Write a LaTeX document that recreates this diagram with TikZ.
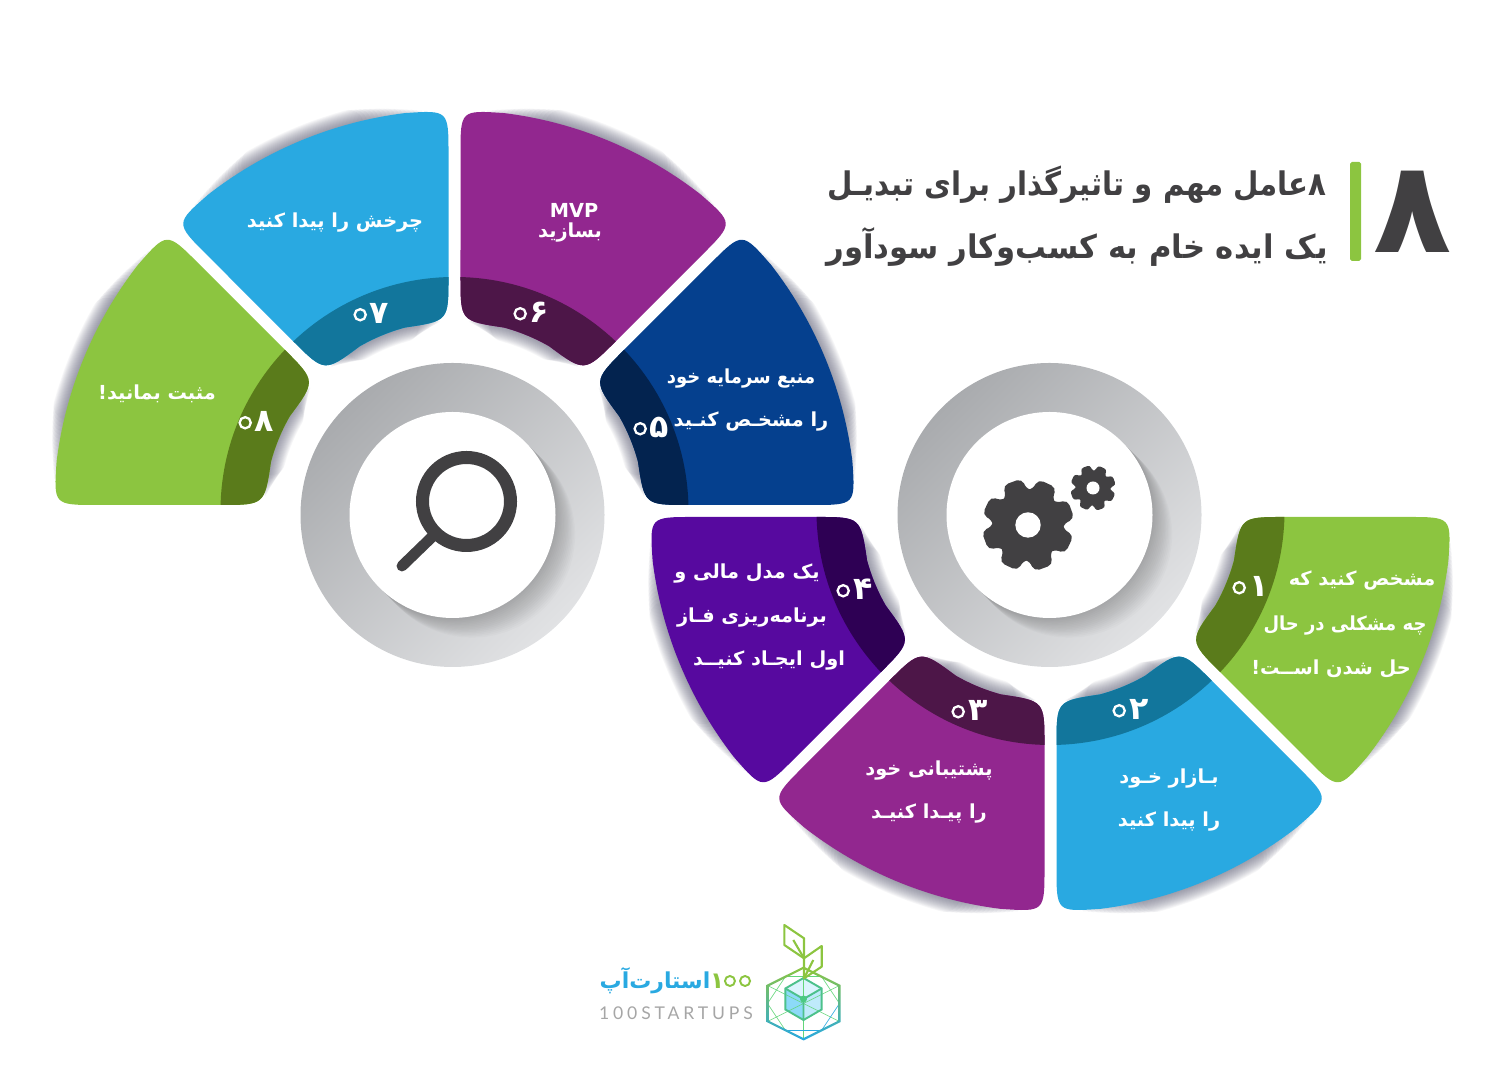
\documentclass[tikz,border=0pt]{standalone}
\usepackage{fontspec}
\usetikzlibrary{calc}
\setmainfont{DejaVu Sans}
\newfontfamily\farsifont[Script=Arabic]{DejaVu Sans}
\newfontfamily\logofont[LetterSpace=22]{Lato}
\TeXXeTstate=1

\definecolor{inkgray}{HTML}{414042}
\definecolor{shadowink}{HTML}{55566E}
\definecolor{ringdark}{HTML}{A9ABAE}
\definecolor{ringlight}{HTML}{E1E2E4}
\definecolor{leafgreen}{HTML}{8CC540}
\definecolor{leafdark}{HTML}{5A7B1B}
\definecolor{skyblue}{HTML}{29A9E1}
\definecolor{skydark}{HTML}{12769C}
\definecolor{plumpurple}{HTML}{92278F}
\definecolor{plumdark}{HTML}{4D1648}
\definecolor{navyblue}{HTML}{05408E}
\definecolor{navydark}{HTML}{03234F}
\definecolor{violetdeep}{HTML}{57099F}
\definecolor{violetdark}{HTML}{2E0054}

\tikzset{
    segtext/.style={text=white, font=\farsifont\bfseries\fontsize{11}{12}\selectfont, inner sep=0pt},
    segnum/.style={text=white, font=\farsifont\bfseries\fontsize{18}{18}\selectfont, inner sep=0pt},
    titletext/.style={text=inkgray, font=\farsifont\bfseries\fontsize{18.5}{20}\selectfont, inner sep=0pt},
    squeeze/.style={xscale=#1, transform shape},
    gridline/.style={line width=0.35pt}
}

\newcommand{\fa}[1]{\beginR #1\endR}

% Soft shadow along one arc
\newcommand{\arcshadow}[3]{%
    \begin{scope}[shift={(#1)}]
        \foreach \i in {1,...,16}{
            \pgfmathsetmacro{\f}{18.5-\i*0.7}
            \draw[shadowink, opacity=0.05, line width=\i pt, line cap=round]
                ({#2+\f}:#3) arc[start angle={#2+\f}, end angle={#2-\f}, radius=#3];
        }
    \end{scope}
}

% One rounded sector with its dark band
\newcommand{\drawsector}[4]{%
    \begin{scope}[shift={(#1)}]
        \pgfmathsetmacro{\aOut}{22.5-asin(6/\Rout)}
        \pgfmathsetmacro{\aIn}{22.5-asin(6/\Rin)}
        \pgfmathsetmacro{\aOutE}{22.5-asin(6/(\Rout-\Rc))}
        \pgfmathsetmacro{\aInE}{22.5-asin(6/(\Rin+\Rc))}
        \pgfmathsetmacro{\tOut}{\Rc/\Rout*57.3}
        \pgfmathsetmacro{\tIn}{\Rc/\Rin*57.3}
        \def\secpath{({#2+\aInE}:{\Rin+\Rc}) -- ({#2+\aOutE}:{\Rout-\Rc})
            .. controls ({#2+\aOut}:\Rout) .. ({#2+\aOut-\tOut}:\Rout)
            arc[start angle={#2+\aOut-\tOut}, end angle={#2-\aOut+\tOut}, radius=\Rout]
            .. controls ({#2-\aOut}:\Rout) .. ({#2-\aOutE}:{\Rout-\Rc})
            -- ({#2-\aInE}:{\Rin+\Rc})
            .. controls ({#2-\aIn}:\Rin) .. ({#2-\aIn+\tIn}:\Rin)
            arc[start angle={#2-\aIn+\tIn}, end angle={#2+\aIn-\tIn}, radius=\Rin]
            .. controls ({#2+\aIn}:\Rin) .. ({#2+\aInE}:{\Rin+\Rc}) -- cycle}
        \fill[#3] \secpath;
        \begin{scope}
            \clip \secpath;
            \fill[#4] (0,0) circle (\Rband);
        \end{scope}
    \end{scope}
}

% Grey ring with the crescent inside
\newcommand{\drawring}[1]{%
    \begin{scope}[shift={(#1)}]
        \shade[top color=ringdark, bottom color=ringlight, shading angle=45] (0,0) circle (152);
        \begin{scope}
            \clip (0,0) circle (152);
            \foreach \i in {1,...,14}
                \fill[black, opacity=0.017] ({\i*1.4},{-\i*1.4}) circle (103);
        \end{scope}
        \fill[white] (0,0) circle (103);
    \end{scope}
}

% Gear with eight teeth
\newcommand{\drawgear}[5]{%
    \begin{scope}[shift={(#1)}]
        \fill[inkgray, rounded corners=#5] (87.5:#3)
            \foreach \k in {0,...,7}{
                -- ({110+45*\k-19}:#3) -- ({110+45*\k-12}:#2)
                -- ({110+45*\k+12}:#2) -- ({110+45*\k+19}:#3)
            } -- cycle;
        \fill[white] (0,0) circle (#4);
    \end{scope}
}

% Open ring over the zero of a sector number
\newcommand{\zeroring}[2]{%
    \draw[white, line width=1.3pt, fill=#2] ([xshift=5.6pt, yshift=-1pt]#1.west) circle (5.6);
}

\begin{document}
\begin{tikzpicture}[x=0.02cm, y=0.02cm]
    % Parameters
    \def\Rout{401}   % outer radius of a sector
    \def\Rband{234}  % outer radius of the dark band
    \def\Rin{190}    % inner radius of a sector
    \def\Rc{44}      % length cut by a rounded corner

    \useasboundingbox (0,0) rectangle (1500,1084);

    \coordinate (lefthub) at (454.5,573);
    \coordinate (righthub) at (1050.5,573);

    % Shadows
    \foreach \m in {157.5,112.5,67.5,22.5}{
        \arcshadow{lefthub}{\m}{\Rout}
        \arcshadow{lefthub}{\m}{\Rin}
    }
    \foreach \m in {202.5,247.5,292.5,337.5}{
        \arcshadow{righthub}{\m}{\Rout}
        \arcshadow{righthub}{\m}{\Rin}
    }

    % Left half
    \drawsector{lefthub}{157.5}{leafgreen}{leafdark}
    \drawsector{lefthub}{112.5}{skyblue}{skydark}
    \drawsector{lefthub}{67.5}{plumpurple}{plumdark}
    \drawsector{lefthub}{22.5}{navyblue}{navydark}

    % Right half
    \drawsector{righthub}{202.5}{violetdeep}{violetdark}
    \drawsector{righthub}{247.5}{plumpurple}{plumdark}
    \drawsector{righthub}{292.5}{skyblue}{skydark}
    \drawsector{righthub}{337.5}{leafgreen}{leafdark}

    % Rings
    \drawring{452.5,569}
    \drawring{1049.5,569}

    % Magnifier
    \draw[inkgray, line width=7.4pt] (466.5,582.5) circle (44);
    \draw[inkgray, line width=6.2pt, line cap=round] (433,548) -- (402,518);

    % Gears
    \drawgear{1028,559}{46.8}{35}{12.7}{3pt}
    \drawgear{1093,596}{23}{17}{6.5}{1.5pt}

    % Sector texts
    \node (text08) [segtext] at (157,690) {\fa{مثبت بمانید!}};
    \node (text07) [segtext] at (335,861) {\fa{چرخش را پیدا کنید}};
    \node (text06a) [segtext] at (574,874) {MVP};
    \node (text06b) [segtext] at (570,851) {\fa{بسازید}};
    \node (text05a) [segtext, squeeze=0.93] at (741,705) {\fa{منبع سرمایه خود}};
    \node (text05b) [segtext] at (751,662) {\fa{را مشخـص کنـید}};
    \node (text04a) [segtext] at (747,510) {\fa{یک مدل مالی و}};
    \node (text04b) [segtext] at (752,466) {\fa{برنامه‌ریزی فـاز}};
    \node (text04c) [segtext] at (769,423) {\fa{اول ایجـاد کنیــد}};
    \node (text03a) [segtext] at (929,313) {\fa{پشتیبانی خود}};
    \node (text03b) [segtext] at (929,270) {\fa{را پیـدا کنیـد}};
    \node (text02a) [segtext] at (1169,305) {\fa{بـازار خـود}};
    \node (text02b) [segtext] at (1169,262) {\fa{را پیدا کنید}};
    \node (text01a) [segtext] at (1362,503) {\fa{مشخص کنید که}};
    \node (text01b) [segtext, squeeze=0.93] at (1345,458) {\fa{چه مشکلی در حال}};
    \node (text01c) [segtext] at (1331,415) {\fa{حل شدن اســت!}};

    % Sector numbers
    \node (num08) [segnum] at (255,663) {۰۸};
    \node (num07) [segnum] at (370,771) {۰۷};
    \node (num06) [segnum] at (530,772) {۰۶};
    \node (num05) [segnum] at (650,657) {۰۵};
    \node (num04) [segnum] at (853,495) {۰۴};
    \node (num03) [segnum] at (968,374) {۰۳};
    \node (num02) [segnum] at (1129,375) {۰۲};
    \node (num01) [segnum] at (1249,498) {۰۱};
    \zeroring{num08}{leafdark}
    \zeroring{num07}{skydark}
    \zeroring{num06}{plumdark}
    \zeroring{num05}{navydark}
    \zeroring{num04}{violetdark}
    \zeroring{num03}{plumdark}
    \zeroring{num02}{skydark}
    \zeroring{num01}{leafdark}

    % Title
    \node (bigeight) [text=inkgray, font=\farsifont\bfseries\fontsize{73}{73}\selectfont, inner sep=0pt] at (1413,872) {۸};
    \fill[leafgreen, rounded corners=1pt] (1350,823) rectangle (1361,922);
    \node (title1) [titletext, squeeze=0.9] at (1077,899) {\fa{۸عامل مهم و تاثیرگذار برای تبدیـل}};
    \node (title2) [titletext, squeeze=0.945] at (1077,837) {\fa{یک ایده خام به کسب‌وکار سودآور}};

    % Logo texts
    \node (logonum) [text=leafgreen, font=\farsifont\bfseries\fontsize{13}{13}\selectfont, inner sep=0pt] at (731,103) {۱۰۰};
    \node (logofa) [text=skyblue, font=\farsifont\bfseries\fontsize{12.5}{13}\selectfont, inner sep=0pt] at (655,103) {\fa{استارت‌آپ}};
    \node (logoen) [text=black!35, font=\logofont\fontsize{10}{10}\selectfont, inner sep=0pt] at (676,71) {100STARTUPS};
    \draw[leafgreen, line width=1.1pt, fill=white] ([xshift=-0.6pt]logonum.center) circle (5);
    \draw[leafgreen, line width=1.1pt, fill=white] ([xshift=8pt]logonum.center) circle (5);

    % Logo cube
    \begin{scope}[shift={(803.5,85)}]
        \fill[cyan!14] (90:21) -- (30:21) -- (0,0) -- (150:21) -- cycle;
        \fill[cyan!45] (150:21) -- (0,0) -- (270:21) -- (210:21) -- cycle;
        \fill[cyan!25] (30:21) -- (0,0) -- (270:21) -- (330:21) -- cycle;
    \end{scope}

    % Logo grid
    \begin{scope}[shift={(803.5,80.5)}, xscale=1.155]
        \foreach \a in {30,90,150}
            \draw[gridline, leafgreen!70!cyan] (\a:36) -- ({\a+180}:36);
        \foreach \a/\b in {90/150, 150/210, 30/90, 330/30}
            \draw[gridline, leafgreen!70!cyan] ($(\a:36)!0.5!(\b:36)$) -- ($({\a+60}:36)!0.5!({\b+60}:36)$);
        \foreach \a/\b in {210/270, 270/330}
            \draw[gridline, skyblue] ($(\a:36)!0.5!(\b:36)$) -- ($({\a+60}:36)!0.5!({\b+60}:36)$);
        \shade[top color=leafgreen, bottom color=skyblue, even odd rule]
            (90:37) -- (30:37) -- (330:37) -- (270:37) -- (210:37) -- (150:37) -- cycle
            (90:34.6) -- (30:34.6) -- (330:34.6) -- (270:34.6) -- (210:34.6) -- (150:34.6) -- cycle;
    \end{scope}

    % Logo cube lines
    \begin{scope}[shift={(803.5,85)}]
        \draw[line width=1.1pt, teal!70!green!70] (90:21) -- (30:21) -- (330:21) -- (270:21) -- (210:21) -- (150:21) -- cycle;
        \draw[line width=1.1pt, teal!70!green!70] (0,0) -- (150:21) (0,0) -- (30:21) (0,0) -- (270:21);
        \fill[teal!60!green!70] (0,0) circle (3.5);
    \end{scope}

    % Logo leaves
    \draw[leafgreen, line width=1.2pt, line join=round] (784.3,159) -- (804,145.7) -- (804,125.7) -- (784.3,139) -- cycle;
    \draw[leafgreen, line width=1.2pt, line join=round] (804,125.7) -- (821.7,138) -- (821.7,117.3) -- (804,105.7) -- cycle;
    \draw[leafgreen, line width=1.2pt] (793.3,144) -- (804,125.7) (813.3,124) -- (804,105.7);
\end{tikzpicture}
\end{document}
